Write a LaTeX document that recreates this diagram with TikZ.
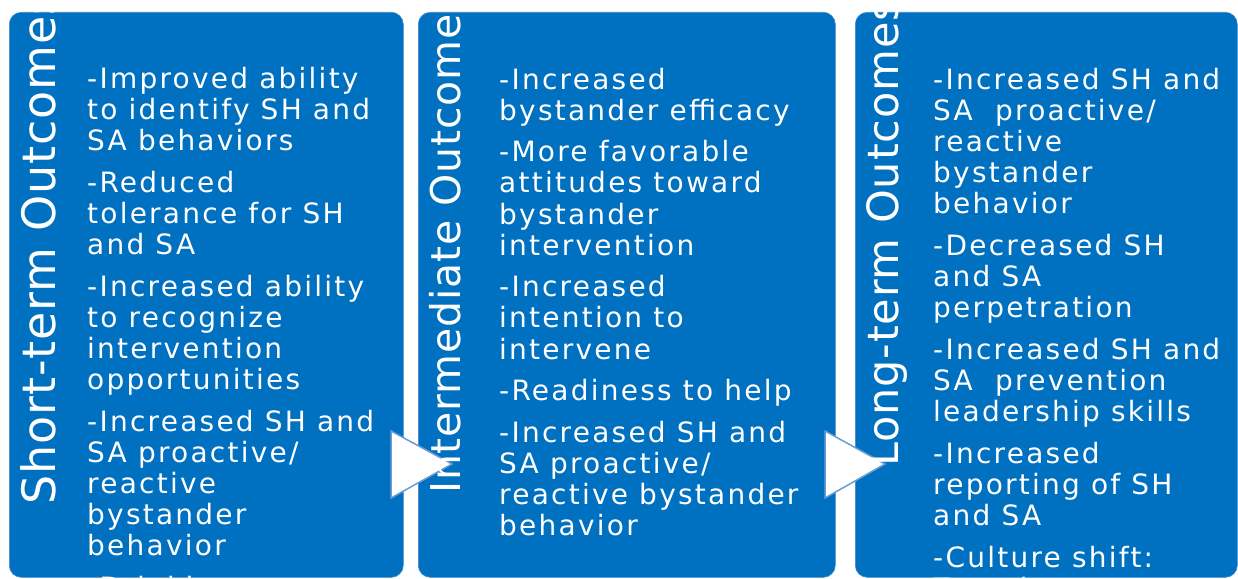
\documentclass[tikz,border=0pt]{standalone}
\usepackage{fontspec}
\setmainfont{DejaVu Sans}
\newfontfamily\bodyfont[LetterSpace=8]{DejaVu Sans}
\newfontfamily\titlefont[LetterSpace=2]{DejaVu Sans}
\definecolor{boxblue}{RGB}{0,112,192}
\definecolor{boxedge}{RGB}{60,140,210}
\definecolor{arrowline}{RGB}{106,155,211}
\newcommand{\outcomelist}[1]{\parbox[t]{360pt}{\bodyfont\fontsize{28}{31.1}\selectfont\setlength{\parskip}{10.6pt}\setlength{\parindent}{0pt}\raggedright #1}}
\begin{document}
\begin{tikzpicture}[x=1pt,y=-1pt,
  outbox/.style={draw=boxedge, fill=boxblue, rounded corners=12pt, line width=0.6pt, anchor=north west, inner sep=0pt},
  bodytext/.style={anchor=base west, inner sep=0pt, text=white},
  titletext/.style={anchor=base west, inner sep=0pt, text=white, rotate=90},
  chevron/.style={draw=arrowline, fill=white, line width=1.5pt, line join=miter}]
\useasboundingbox (0,0) rectangle (1238,578);
\fill[white] (0,0) rectangle (1238,578);
% boxes
\node[outbox, minimum width=394pt, minimum height=565pt] (b1) at (9,12) {};
\node[outbox, minimum width=417pt, minimum height=565pt] (b2) at (418,12) {};
\node[outbox, minimum width=382pt, minimum height=565pt] (b3) at (855,12) {};
% arrows
\coordinate (a1t) at (391,431);
\coordinate (a1b) at (391,498);
\coordinate (a1p) at (452,464);
\coordinate (a2t) at (825,431);
\coordinate (a2b) at (825,498);
\coordinate (a2p) at (885,464);
\draw[chevron] (a1t) -- (a1p) -- (a1b) -- cycle;
\draw[chevron] (a2t) -- (a2p) -- (a2b) -- cycle;
% titles
\node[titletext, font=\titlefont\fontsize{46}{52}\selectfont] (h1) at (55,505) {Short-term Outcomes};
\node[titletext, font=\titlefont\fontsize{41}{47}\selectfont] (h2) at (460,494) {Intermediate Outcomes};
\node[titletext, font=\titlefont\fontsize{43}{49}\selectfont] (h3) at (898,467) {Long-term Outcomes};
% lists
\node[bodytext] (t1) at (87,88.5) {\outcomelist{%
-Improved ability\\ to identify SH and\\ SA behaviors\par
-Reduced\\ tolerance for SH\\ and SA\par
-Increased ability\\ to recognize\\ intervention\\ opportunities\par
-Increased SH and\\ SA proactive/\\ reactive\\ bystander\\ behavior\par
-Drinking}};
\node[bodytext] (t2) at (499,89) {\outcomelist{%
-Increased\\ bystander efficacy\par
-More favorable\\ attitudes toward\\ bystander\\ intervention\par
-Increased\\ intention to\\ intervene\par
-Readiness to help\par
-Increased SH and\\ SA proactive/\\ reactive bystander\\ behavior}};
\node[bodytext] (t3) at (933,89.5) {\outcomelist{%
-Increased SH and\\ SA\ \ proactive/\\ reactive\\ bystander\\ behavior\par
-Decreased SH\\ and SA\\ perpetration\par
-Increased SH and\\ SA\ \ prevention\\ leadership skills\par
-Increased\\ reporting of SH\\ and SA\par
-Culture shift:\\ Together we}};
\end{tikzpicture}
\end{document}
